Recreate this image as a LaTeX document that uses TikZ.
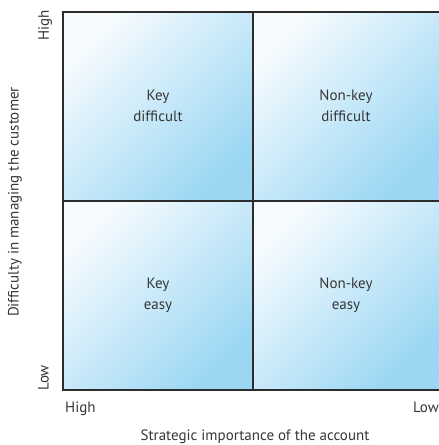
\documentclass[tikz,border=0pt]{standalone}
\usepackage{fontspec}
\setmainfont{PT Sans}
\definecolor{qlight}{RGB}{246,251,254}
\definecolor{qdark}{RGB}{150,213,243}
\definecolor{linegray}{RGB}{45,45,45}
\definecolor{textgray}{RGB}{55,55,55}
\begin{document}
\begin{tikzpicture}[x=1pt,y=-1pt,
  quad/.style={shading=axis,top color=qlight,bottom color=qdark,shading angle=45},
  frame/.style={draw=linegray,line width=1.4pt},
  lbl/.style={text=textgray,font=\fontsize{15}{21}\selectfont,align=center,inner sep=0pt},
  hatch/.style={white,opacity=0.15,line width=0.5pt}]
\useasboundingbox (0,0) rectangle (439,445);
% quadrants
\shade[quad] (63,12) rectangle (253,201);
\shade[quad] (253,12) rectangle (439,201);
\shade[quad] (63,201) rectangle (253,390);
\shade[quad] (253,201) rectangle (439,390);
% hatching
\begin{scope}
\clip (63,12) rectangle (439,390);
\foreach \i in {-380,-377,...,440} {
  \draw[hatch] (\i,390) -- ++(378,-378);
}
\end{scope}
% frame
\coordinate (tl) at (63,12);
\coordinate (tr) at (439,12);
\coordinate (bl) at (63,390);
\coordinate (br) at (439,390);
\coordinate (tm) at (253,12);
\coordinate (bm) at (253,390);
\coordinate (lm) at (63,201);
\coordinate (rm) at (439,201);
\draw[frame] (tr) -- (tl) -- (bl) -- (br);
\draw[frame] (tm) -- (bm);
\draw[frame] (lm) -- (rm);
% quadrant labels
\node[lbl] (kd) at (158,106) {Key\\difficult};
\node[lbl] (nd) at (346,106) {Non-key\\difficult};
\node[lbl] (ke) at (158,295) {Key\\easy};
\node[lbl] (ne) at (346,295) {Non-key\\easy};
% axis labels
\node[lbl,rotate=90,anchor=north east] (yh) at (38,10) {High};
\node[lbl,rotate=90,anchor=north west] (yl) at (38,391) {Low};
\node[lbl,rotate=90] (ya) at (15,202) {Difficulty in managing the customer};
\node[lbl,anchor=north west] (xh) at (65,402) {High};
\node[lbl,anchor=north east] (xl) at (439,402) {Low};
\node[lbl,anchor=north] (xa) at (255,430) {Strategic importance of the account};
\end{tikzpicture}
\end{document}
